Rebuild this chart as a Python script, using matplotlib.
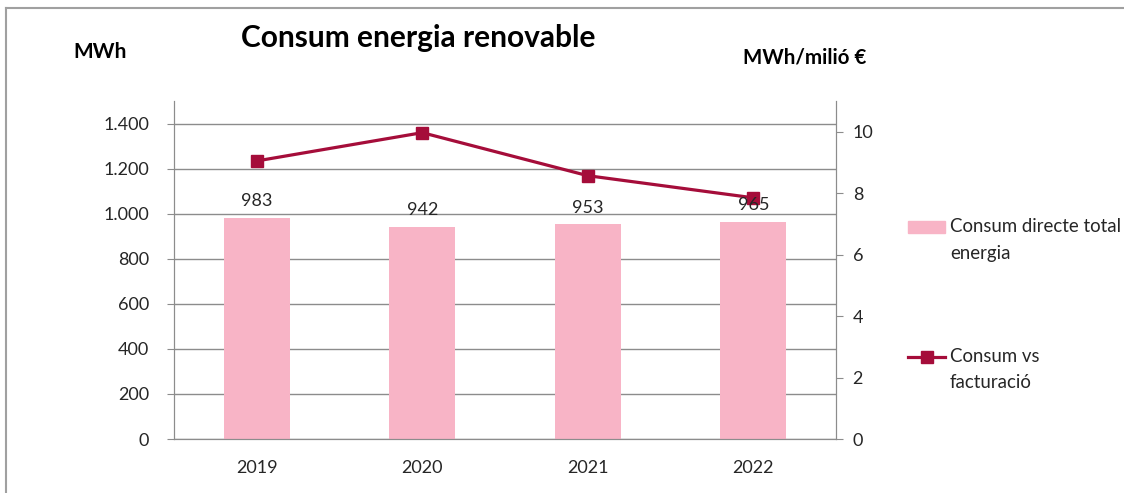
import matplotlib.pyplot as plt
from matplotlib.lines import Line2D
from matplotlib.patches import Rectangle
from matplotlib.ticker import FuncFormatter

plt.rcParams['font.family'] = ['Lato', 'DejaVu Sans']

years = ['2019', '2020', '2021', '2022']
consum_mwh = [983, 942, 953, 965]
consum_vs_fact = [9.05, 9.97, 8.57, 7.85]

bar_color = '#F8B4C6'
line_color = '#A50D3A'
axis_gray = '#8C8C8C'
text_color = '#262626'

fig = plt.figure(figsize=(11.24, 4.93), dpi=100)
ax = fig.add_axes([0.1548, 0.1095, 0.589, 0.6856])
ax2 = ax.twinx()

x = list(range(len(years)))
bars = ax.bar(x, consum_mwh, width=0.4, color=bar_color, zorder=2)
ax2.plot(x, consum_vs_fact, color=line_color, lw=2.3, marker='s', ms=9, zorder=4)
for xi, v in zip(x, consum_mwh):
    ax2.annotate(str(v), (xi, v * 11 / 1500), xytext=(0, 6), textcoords='offset points',
                 ha='center', va='bottom', fontsize=13, color=text_color, zorder=6)

ax.set_xlim(-0.5, 3.5)
ax.set_ylim(0, 1500)
ax.set_yticks(range(0, 1401, 200))
ax.yaxis.set_major_formatter(FuncFormatter(lambda v, p: f'{int(v):,}'.replace(',', '.')))
ax2.set_ylim(0, 11)
ax2.set_yticks(range(0, 11, 2))

ax.set_xticks(x)
ax.set_xticklabels(years)
ax.grid(axis='y', color=axis_gray, lw=1, zorder=0)
ax.set_axisbelow(True)

for a in (ax, ax2):
    a.spines['top'].set_visible(False)
    for s in ('left', 'right', 'bottom'):
        a.spines[s].set_color(axis_gray)
ax.tick_params(axis='y', length=5, color=axis_gray, labelsize=13, labelcolor=text_color, pad=13)
ax.tick_params(axis='x', length=0, labelsize=13, labelcolor=text_color, pad=15)
ax2.tick_params(axis='y', length=5, color=axis_gray, labelsize=13, labelcolor=text_color, pad=7)
ax2.set_zorder(ax.get_zorder() + 1)
ax2.patch.set_visible(False)

fig.text(418 / 1124, 1 - 38 / 493, 'Consum energia renovable', ha='center', va='center',
         fontsize=21.5, fontweight='bold', color='black')
fig.text(100 / 1124, 1 - 52 / 493, 'MWh', ha='center', va='center',
         fontsize=15, fontweight='bold', color='black')
fig.text(805 / 1124, 1 - 57 / 493, 'MWh/milió €', ha='center', va='center',
         fontsize=14.8, fontweight='bold', color='black')

# legend drawn by hand to keep Excel-like spacing
fig.add_artist(Rectangle((908 / 1124, 1 - 233 / 493), 37 / 1124, 12 / 493,
                         transform=fig.transFigure, color=bar_color))
fig.add_artist(Line2D([908 / 1124, 926.5 / 1124, 945 / 1124], [1 - 357 / 493] * 3,
                      transform=fig.transFigure, color=line_color, lw=2.3,
                      marker='s', ms=9, markevery=[1]))
fig.text(950 / 1124, 1 - 227 / 493, 'Consum directe total', va='center', fontsize=13.4, color=text_color)
fig.text(950 / 1124, 1 - 253 / 493, 'energia', va='center', fontsize=13.4, color=text_color)
fig.text(950 / 1124, 1 - 357 / 493, 'Consum vs', va='center', fontsize=13.4, color=text_color)
fig.text(950 / 1124, 1 - 382 / 493, 'facturació', va='center', fontsize=13.4, color=text_color)

# outer frame (only top and left visible in the crop)
fig.add_artist(Line2D([6 / 1124, 1], [1 - 8 / 493] * 2, transform=fig.transFigure, color='#A0A0A0', lw=1.5))
fig.add_artist(Line2D([6 / 1124] * 2, [0, 1 - 8 / 493], transform=fig.transFigure, color='#A0A0A0', lw=1.5))

fig.savefig('out.png', dpi=100)
